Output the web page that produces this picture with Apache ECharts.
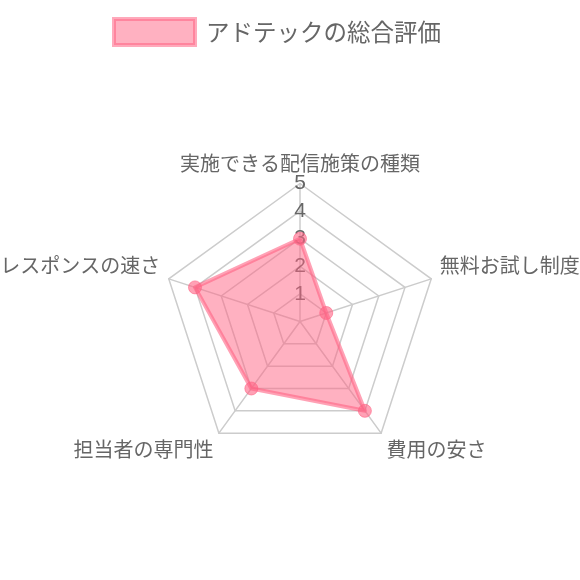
<!DOCTYPE html>
<html>
<head>
<meta charset="utf-8">
<script src="https://cdn.jsdelivr.net/npm/echarts@6/dist/echarts.min.js"></script>
<style>
html,body{margin:0;padding:0;background:#fff;}
#c{width:580px;height:580px;}
</style>
</head>
<body>
<div id="c"></div>
<script>
const seriesName = 'アドテックの総合評価';
const categories = ['実施できる配信施策の種類', '無料お試し制度', '費用の安さ', '担当者の専門性', 'レスポンスの速さ'];
const values = [3, 1, 4, 3, 4];
const maxValue = 5;
const nameShift = ['top', 'up', 'down', 'down', 'up'];
// ECharts radar runs counter-clockwise; reorder so the reference's clockwise layout is kept
const drawOrder = [0, 4, 3, 2, 1];

const FONT = '"Noto Sans CJK JP", "Noto Sans", sans-serif';
const NUMFONT = '"Liberation Sans", Arial, sans-serif';
const chart = echarts.init(document.getElementById('c'));
chart.setOption({
  animation: false,
  legend: {
    data: [seriesName],
    left: 107,
    top: 12,
    icon: 'rect',
    itemWidth: 81,
    itemHeight: 26,
    itemStyle: {
      color: 'rgba(255,99,132,0.5)',
      borderColor: 'rgba(255,99,132,0.55)',
      borderWidth: 4
    },
    textStyle: { color: '#666', fontSize: 23.5, fontFamily: FONT, padding: [0, 0, 0, 6] }
  },
  radar: {
    center: [300, 321.5],
    radius: 138,
    shape: 'polygon',
    splitNumber: 5,
    nameGap: 9,
    indicator: drawOrder.map((k, j) => ({
      name: categories[k], min: 0, max: maxValue,
      axisLabel: { show: j === 0 }
    })),
    axisName: {
      color: '#666',
      fontSize: 20,
      fontFamily: FONT,
      formatter: function (value) {
        const i = categories.indexOf(value);
        return '{' + nameShift[i] + '|' + value + '}';
      },
      rich: {
        top: { color: '#666', fontSize: 20, fontFamily: FONT },
        up: { color: '#666', fontSize: 20, fontFamily: FONT, padding: [0, 0, 22, 0] },
        down: { color: '#666', fontSize: 20, fontFamily: FONT, padding: [18, 0, 0, 0] }
      }
    },
    axisLabel: {
      show: false,
      showMinLabel: false,
      margin: 0,
      align: 'center',
      verticalAlign: 'middle',
      color: '#666',
      fontSize: 21,
      fontFamily: NUMFONT
    },
    axisLine: { lineStyle: { color: '#cccccc', width: 1.5 } },
    splitLine: { lineStyle: { color: '#cccccc', width: 1.5 } },
    splitArea: { show: false },
    axisTick: { show: false }
  },
  series: [{
    name: seriesName,
    type: 'radar',
    symbol: 'circle',
    symbolSize: 13,
    data: [{ name: seriesName, value: drawOrder.map(k => values[k]) }],
    lineStyle: { color: 'rgba(255,99,132,0.6)', width: 4 },
    areaStyle: { color: 'rgba(255,99,132,0.5)', opacity: 1 },
    itemStyle: { color: 'rgba(255,99,132,0.6)', borderColor: 'rgba(255,99,132,0.6)', borderWidth: 1 }
  }]
});
</script>
</body>
</html>
